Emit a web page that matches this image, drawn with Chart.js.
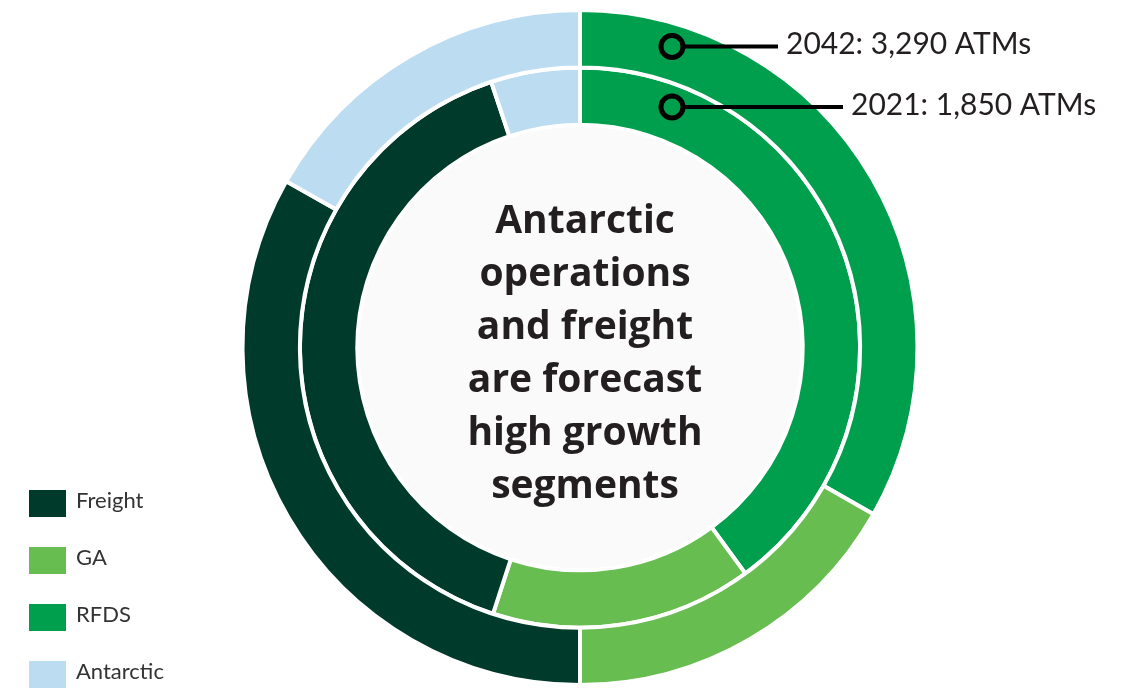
<!DOCTYPE html>
<html>
<head>
<meta charset="utf-8">
<script src="https://cdn.jsdelivr.net/npm/chart.js@4"></script>
<style>
    body { margin: 0; background: #fff; }
    #wrap { width: 1129px; height: 691px; position: relative; }
</style>
</head>
<body>
<div id="wrap"><canvas id="atmsChart"></canvas></div>
<script>

// categories, clockwise from the top
const categories = ["RFDS", "GA", "Freight", "Antarctic"]
const categoryColors = ["#009f4d", "#68bd51", "#003a2a", "#bcddf1"]

// legend is listed in another order than the rings
const legendOrder = ["Freight", "GA", "RFDS", "Antarctic"]

// outer ring first, inner ring second
const years = ["2042", "2021"]
const atms2042 = [1093, 552, 1092, 553]
const atms2021 = [739, 279, 737, 95]

const centerLines = [
    "Antarctic",
    "operations",
    "and freight",
    "are forecast",
    "high growth",
    "segments"
]

const total = arr => arr.reduce((a, b) => a + b, 0)

// grey disc in the middle of the rings
const centerDisc = {
    id: "centerDisc",
    beforeDatasetsDraw(chart) {
        const arc = chart.getDatasetMeta(1).data[0]
        const ctx = chart.ctx
        ctx.save()
        ctx.fillStyle = "#fafafa"
        ctx.beginPath()
        ctx.arc(arc.x, arc.y, arc.innerRadius, 0, Math.PI * 2)
        ctx.fill()
        ctx.restore()
    }
}

// centre text, year markers and legend
const overlay = {
    id: "overlay",
    afterDraw(chart) {
        const ctx = chart.ctx
        const first = chart.getDatasetMeta(0).data[0]
        const cx = first.x
        const cy = first.y

        ctx.save()

        // centre text
        ctx.fillStyle = "#231f20"
        ctx.font = "bold 39px 'Open Sans'"
        ctx.textAlign = "center"
        ctx.textBaseline = "alphabetic"
        centerLines.forEach((line, i) => {
            ctx.fillText(line, cx + 5, cy - 115 + i * 53)
        })

        // year markers
        const lineLengths = [106, 171]
        chart.data.datasets.forEach((ds, i) => {
            const arc = chart.getDatasetMeta(i).data[0]
            const r = (arc.innerRadius + arc.outerRadius) / 2 + 6
            const mx = cx + 92
            const my = cy - Math.sqrt(r * r - 92 * 92)

            ctx.strokeStyle = "#000"
            ctx.lineWidth = 4
            ctx.beginPath()
            ctx.moveTo(mx + 11, my)
            ctx.lineTo(mx + lineLengths[i], my)
            ctx.stroke()

            ctx.lineWidth = 5
            ctx.beginPath()
            ctx.arc(mx, my, 11, 0, Math.PI * 2)
            ctx.stroke()

            ctx.fillStyle = "#231f20"
            ctx.font = "30px Lato"
            ctx.textAlign = "left"
            ctx.textBaseline = "middle"
            ctx.fillText(
                ds.label + ": " + total(ds.data).toLocaleString("en-US") + " ATMs",
                mx + lineLengths[i] + 8,
                my - 2
            )
        })

        // legend
        ctx.font = "22px Lato"
        ctx.textAlign = "left"
        ctx.textBaseline = "middle"
        legendOrder.forEach((name, i) => {
            const top = 490 + i * 57
            ctx.fillStyle = categoryColors[categories.indexOf(name)]
            ctx.fillRect(29, top, 37, 27)
            ctx.fillStyle = "#333"
            ctx.fillText(name, 76, top + 11)
        })

        ctx.restore()
    }
}

const atmsChart = new Chart(
    document.getElementById("atmsChart"),
    {
        type: "doughnut",

        data: {
            labels: categories,

            datasets: [
                {
                    label: years[0],
                    data: atms2042,
                    backgroundColor: categoryColors,
                    borderColor: "#fff",
                    borderWidth: 4
                },
                {
                    label: years[1],
                    data: atms2021,
                    backgroundColor: categoryColors,
                    borderColor: "#fff",
                    borderWidth: 4
                }
            ]
        },

        options: {
            responsive: true,
            maintainAspectRatio: false,
            animation: false,
            cutout: "66%",
            layout: {
                padding: { top: 8, bottom: 4, left: 31, right: 0 }
            },
            plugins: {
                legend: { display: false },
                tooltip: { enabled: false }
            }
        },

        plugins: [centerDisc, overlay]
    }
)
</script>
</body>
</html>
